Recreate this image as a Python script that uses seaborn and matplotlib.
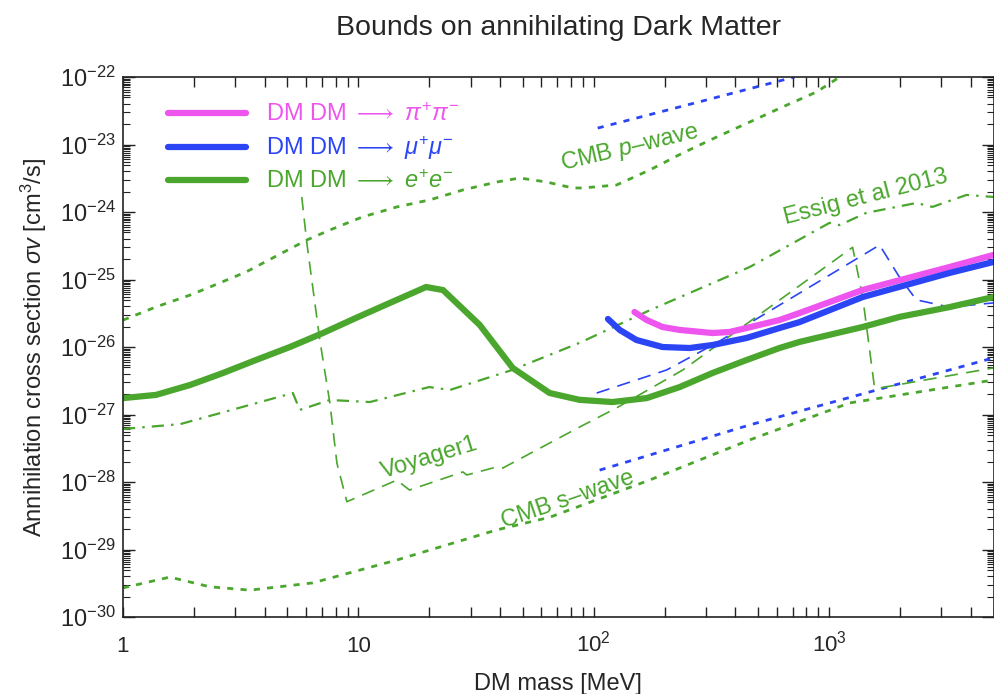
import numpy as np
import matplotlib
matplotlib.use("Agg")
import matplotlib.pyplot as plt
import matplotlib.ticker as mticker
import seaborn as sns

# colours of the three channels
PINK = "#ee55ee"
BLUE = "#2b45f5"
GREEN = "#4aa62d"

# --- thick curves: bounds per annihilation channel (mass in MeV, sigma v in cm^3/s)
ee_mass = [1, 1.38, 1.93, 2.66, 3.67, 5.12, 7.07, 9.76, 13.6, 19.4, 22.9, 32.8, 45.3, 65, 87,
           120, 168, 232, 320, 446, 616, 750, 1390, 2000, 3250, 5000]
ee_sigma = [1.75e-27, 1.95e-27, 2.74e-27, 4.12e-27, 6.41e-27, 1.0e-26, 1.61e-26, 2.69e-26,
            4.49e-26, 7.74e-26, 6.98e-26, 2.12e-26, 4.89e-27, 2.08e-27, 1.65e-27, 1.53e-27,
            1.75e-27, 2.55e-27, 4.12e-27, 6.41e-27, 9.66e-27, 1.19e-26, 1.98e-26, 2.8e-26,
            3.9e-26, 5.5e-26]

mumu_mass = [115, 129, 152, 196, 256, 320, 446, 616, 750, 1390, 3250, 5000]
mumu_sigma = [2.6e-26, 1.79e-26, 1.27e-26, 1.0e-26, 9.66e-27, 1.07e-26, 1.36e-26, 1.91e-26,
              2.34e-26, 5.5e-26, 1.25e-25, 1.82e-25]

pipi_mass = [149, 168, 196, 232, 320, 378, 446, 616, 750, 1390, 3250, 5000]
pipi_sigma = [3.3e-26, 2.51e-26, 1.98e-26, 1.79e-26, 1.61e-26, 1.67e-26, 1.91e-26, 2.51e-26,
              3.19e-26, 7.0e-26, 1.53e-25, 2.31e-25]

# --- CMB p-wave (dotted)
pwave_e_mass = [1, 1.38, 1.93, 2.34, 3.33, 6.04, 7.57, 10.4, 14.6, 20.1, 27.8, 38.7, 48.5, 63.1,
                81.5, 89.8, 125, 173, 239, 333, 460, 635, 885, 1110]
pwave_e_sigma = [2.5e-26, 3.92e-26, 5.89e-26, 7.74e-26, 1.29e-25, 3.85e-25, 5.41e-25, 8.44e-25,
                 1.19e-24, 1.51e-24, 2.12e-24, 2.78e-24, 3.19e-24, 2.78e-24, 2.27e-24, 2.27e-24,
                 2.51e-24, 4.19e-24, 7.48e-24, 1.29e-23, 2.15e-23, 3.6e-23, 6.0e-23, 1.0e-22]
pwave_mu_mass = [104, 282, 714]
pwave_mu_sigma = [1.75e-23, 4.3e-23, 1.0e-22]

# --- CMB s-wave (dotted)
swave_e_mass = [1, 1.58, 2.34, 3.46, 6.4, 14.6, 38.7, 65, 173, 460, 1220, 5000]
swave_e_sigma = [2.7e-30, 3.9e-30, 2.8e-30, 2.5e-30, 3.2e-30, 7.0e-30, 1.95e-29, 3.0e-29,
                 1.07e-28, 4.2e-28, 1.48e-27, 3.24e-27]
swave_mu_mass = [106, 460, 5000]
swave_mu_sigma = [1.5e-28, 7.0e-28, 6.9e-27]

# --- Essig et al 2013 (dash-dot)
essig_mass = [1, 1.75, 5.27, 5.64, 7.57, 11.2, 20, 24.5, 45, 87, 173, 460, 1005, 1110, 1440,
              2350, 2750, 3840, 5000]
essig_sigma = [6.1e-28, 7.2e-28, 2.08e-27, 1.17e-27, 1.64e-27, 1.53e-27, 2.55e-27, 2.31e-27,
               4.56e-27, 1.15e-26, 3.5e-26, 1.53e-25, 6.9e-25, 6.4e-25, 9.7e-25, 1.36e-24,
               1.19e-24, 1.79e-24, 1.67e-24]

# --- Voyager1 (dashed)
voy_e_mass = [5.75, 6.04, 6.86, 7.57, 8.11, 8.94, 14.6, 15.5, 16.5, 27.8, 28.9, 38.7, 41.1,
              87, 125, 239, 1260, 1390, 1560, 1640, 5000]
voy_e_sigma = [1.67e-24, 3.5e-25, 1.27e-26, 1.48e-27, 1.9e-28, 5.1e-29, 1.07e-28, 9.0e-29,
               7.6e-29, 1.41e-28, 1.27e-28, 1.67e-28, 1.61e-28, 6.5e-28, 1.25e-27, 4.56e-27,
               3.0e-25, 5.5e-26, 2.55e-27, 2.47e-27, 4.9e-27]
voy_mu_mass = [103, 204, 333, 1640, 1990, 2350, 3250, 5000]
voy_mu_sigma = [2.08e-27, 4.56e-27, 1.15e-26, 3.24e-25, 1.09e-25, 5.0e-26, 3.9e-26, 4.5e-26]

# axis ticks
x_ticks = [1, 10, 100, 1000]
x_tick_labels = ["1", "10", "$10^{2}$", "$10^{3}$"]
y_ticks = [1e-30, 1e-29, 1e-28, 1e-27, 1e-26, 1e-25, 1e-24, 1e-23, 1e-22]
y_tick_labels = ["$10^{%d}$" % e for e in range(-30, -21)]

# curve labels: text, mass, sigma, angle
curve_labels = [
    ("CMB $p$–wave", 142, 8.9e-24, 13.5),
    ("Essig et al 2013", 1440, 1.67e-24, 14.5),
    ("Voyager1", 20.1, 2.27e-28, 17),
    ("CMB s–wave", 77.6, 5.4e-29, 19),
]

sns.set_theme(style="ticks")
plt.rcParams["font.family"] = ["Liberation Sans", "DejaVu Sans"]
plt.rcParams["mathtext.fontset"] = "custom"
plt.rcParams["mathtext.rm"] = "Liberation Sans"
plt.rcParams["mathtext.it"] = "Liberation Sans:italic"
plt.rcParams["mathtext.fallback"] = "stixsans"

fig = plt.figure(figsize=(9.94, 6.94), dpi=100)
ax = fig.add_axes([123 / 994, 77 / 694, 870.5 / 994, 540 / 694])

dot = (0, (2.2, 2.6))
dash = (0, (8, 5))
dashdot = (0, (5.5, 3.2, 1.1, 3.2))

# thin reference curves
sns.lineplot(x=pwave_e_mass, y=pwave_e_sigma, ax=ax, color=GREEN, lw=2, linestyle=dot, sort=False)
sns.lineplot(x=pwave_mu_mass, y=pwave_mu_sigma, ax=ax, color=BLUE, lw=2, linestyle=dot, sort=False)
sns.lineplot(x=swave_e_mass, y=swave_e_sigma, ax=ax, color=GREEN, lw=2, linestyle=dot, sort=False)
sns.lineplot(x=swave_mu_mass, y=swave_mu_sigma, ax=ax, color=BLUE, lw=2, linestyle=dot, sort=False)
sns.lineplot(x=essig_mass, y=essig_sigma, ax=ax, color=GREEN, lw=1.6, linestyle=dashdot, sort=False)
sns.lineplot(x=voy_e_mass, y=voy_e_sigma, ax=ax, color=GREEN, lw=1.2, linestyle=dash, sort=False)
sns.lineplot(x=voy_mu_mass, y=voy_mu_sigma, ax=ax, color=BLUE, lw=1.2, linestyle=dash, sort=False)

# thick bound curves
sns.lineplot(x=pipi_mass, y=pipi_sigma, ax=ax, color=PINK, lw=4.5, sort=False,
             label="DM DM $\\longrightarrow$ $\\pi^{+}\\pi^{-}$")
sns.lineplot(x=mumu_mass, y=mumu_sigma, ax=ax, color=BLUE, lw=4.5, sort=False,
             label="DM DM $\\longrightarrow$ $\\mu^{+}\\mu^{-}$")
sns.lineplot(x=ee_mass, y=ee_sigma, ax=ax, color=GREEN, lw=4.5, sort=False,
             label="DM DM $\\longrightarrow$ $e^{+}e^{-}$")

ax.set_xscale("log")
ax.set_yscale("log")
ax.set_xlim(1, 5000)
ax.set_ylim(1e-30, 1e-22)

for text, m, s, ang in curve_labels:
    ax.text(m, s, text, color=GREEN, fontsize=17, rotation=ang,
            rotation_mode="anchor", ha="center", va="center")

ax.set_xticks(x_ticks)
ax.set_xticklabels(x_tick_labels)
ax.xaxis.set_minor_locator(mticker.LogLocator(base=10, subs=np.arange(2, 10)))
ax.xaxis.set_minor_formatter(mticker.NullFormatter())
ax.set_yticks(y_ticks)
ax.set_yticklabels(y_tick_labels)
ax.yaxis.set_minor_locator(mticker.LogLocator(
    base=10, subs=[2, 3, 4, 5, 5.5, 6, 6.5, 7, 7.5, 8, 8.5, 9, 9.5], numticks=20))
ax.yaxis.set_minor_formatter(mticker.NullFormatter())

ax.tick_params(which="both", direction="in", top=True, right=True, color="#222222")
ax.tick_params(axis="x", which="both", length=7, width=1, labelsize=16, pad=25)
ax.tick_params(axis="y", which="major", length=8.5, width=1, labelsize=17, pad=5)
ax.tick_params(axis="y", which="minor", length=5, width=0.8)
for lab in ax.get_xticklabels():
    lab.set_verticalalignment("baseline")
for sp in ax.spines.values():
    sp.set_linewidth(1.2)
    sp.set_color("#222222")

ax.set_xlabel("DM mass [MeV]", fontsize=17, labelpad=12)
ax.set_ylabel("Annihilation cross section $\\sigma v$ [cm$^{3}$/s]", fontsize=17, labelpad=8)
ax.set_title("Bounds on annihilating Dark Matter", fontsize=20.5, pad=30)

ax.legend(loc="upper left", bbox_to_anchor=(0.052, 0.952), frameon=False, fontsize=17,
          handlelength=3.3, handletextpad=0.85, labelspacing=0.35, borderpad=0,
          borderaxespad=0, labelcolor="linecolor")

fig.savefig("out.png", dpi=100)
